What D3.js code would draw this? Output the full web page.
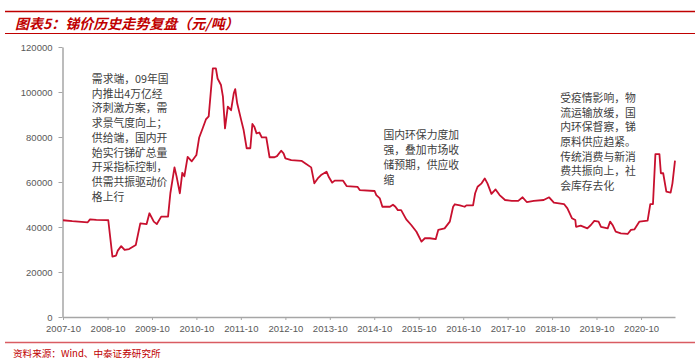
<!DOCTYPE html>
<html><head><meta charset="utf-8">
<script src="https://cdn.jsdelivr.net/npm/d3@7/dist/d3.min.js"></script>
<style>
body{margin:0;background:#fff;}
svg{display:block;}
</style></head>
<body><svg id="c" width="700" height="360"></svg>
<script>
const titleText = "图表5：锑价历史走势复盘（元/吨）";
const sourceText = "资料来源：Wind、中泰证券研究所";
const yTicks = [0, 20000, 40000, 60000, 80000, 100000, 120000];
const xTickLabels = ["2007-10","2008-10","2009-10","2010-10","2011-10","2012-10","2013-10","2014-10","2015-10","2016-10","2017-10","2018-10","2019-10","2020-10"];
const dates = ["2007-10-01","2007-12-16","2008-04-21","2008-05-10","2008-07-01","2008-09-18","2008-10-07","2008-11-10","2008-12-10","2008-12-24",
"2009-01-21","2009-02-18","2009-03-27","2009-05-21","2009-06-27","2009-08-18","2009-09-10","2009-10-16","2009-11-10","2009-12-16",
"2010-02-10","2010-03-01","2010-04-04","2010-04-21","2010-05-18","2010-06-07","2010-06-24","2010-07-21","2010-08-24","2010-10-01",
"2010-10-24","2010-11-21","2010-12-18","2011-01-10","2011-02-13","2011-03-10","2011-03-24","2011-04-21","2011-05-07","2011-05-24",
"2011-06-16","2011-07-13","2011-08-04","2011-08-16","2011-09-01","2011-10-04","2011-10-24","2011-11-18","2011-12-18","2012-01-04",
"2012-01-21","2012-02-07","2012-03-01","2012-03-21","2012-04-27","2012-05-24","2012-07-04","2012-07-24","2012-08-27","2012-09-16",
"2012-10-01","2012-11-18","2013-02-10","2013-03-21","2013-05-01","2013-05-27","2013-06-24","2013-07-21","2013-09-04","2013-09-24",
"2013-10-21","2013-11-10","2014-01-18","2014-02-16","2014-05-18","2014-06-04","2014-10-04","2014-10-18","2014-11-16","2014-12-07",
"2015-02-07","2015-03-04","2015-03-24","2015-04-13","2015-05-10","2015-06-21","2015-08-01","2015-09-13","2015-10-24","2015-11-21",
"2016-01-01","2016-02-18","2016-03-10","2016-05-01","2016-06-13","2016-07-10","2016-07-24","2016-09-04","2016-10-13","2016-10-27",
"2016-12-21","2017-01-07","2017-01-27","2017-03-01","2017-03-27","2017-04-18","2017-05-21","2017-06-24","2017-07-27","2017-09-10",
"2017-11-04","2017-12-27","2018-02-01","2018-03-07","2018-05-04","2018-07-24","2018-09-07","2018-10-16","2019-01-07","2019-02-04",
"2019-03-13","2019-04-10","2019-04-16","2019-05-24","2019-07-18","2019-08-16","2019-09-13","2019-10-18","2019-11-07","2020-01-01",
"2020-01-21","2020-02-10","2020-03-07","2020-04-18","2020-06-13","2020-07-10","2020-08-07","2020-09-18","2020-11-24","2020-12-16",
"2021-01-07","2021-01-27","2021-03-01","2021-03-13","2021-04-01","2021-04-27","2021-06-01","2021-06-16","2021-07-07"];
const prices = [43000,42600,42100,43400,43200,43100,43000,26800,27300,29500,
31500,29800,30200,32000,41600,41300,46100,42400,41300,44600,
44600,55000,66500,62500,55000,64100,62500,71200,69200,72000,
79800,83800,87800,89200,110500,110500,106000,103100,97900,83800,
93500,91900,99400,101300,95000,87500,83100,75000,75000,85800,
84400,81600,82000,79800,79800,71000,71000,71500,73900,72700,
70500,69700,69400,68000,66500,59400,61600,63100,64600,62100,
59700,60600,60600,58200,57800,56400,56000,54200,52700,49000,
49000,49900,49000,47500,47500,43400,40900,37900,33500,35000,
35000,34600,38700,39400,42400,49000,50100,49600,49000,49600,
49600,55000,57900,59400,61600,59400,54700,56700,54200,52000,
51600,51600,53200,51100,51600,52000,53200,50800,50200,48300,
43900,43100,40100,40600,39400,40900,42700,42400,40100,39400,
42400,40900,37900,37200,36900,38700,38900,42400,42800,50200,
50200,72400,72400,63900,63900,55700,55300,59400,69500];
const notes = [
  {x:"2008-05-25", y:104000, lines:["需求端，09年国","内推出4万亿经","济刺激方案，需","求景气度向上；","供给端，国内开","始实行锑矿总量","开采指标控制，","供需共振驱动价","格上行"]},
  {x:"2014-12-16", y:78900, lines:["国内环保力度加","强，叠加市场收","储预期，供应收","缩"]},
  {x:"2018-12-07", y:95600, lines:["受疫情影响，物","流运输放缓，国","内环保督察，锑","原料供应趋紧。","传统消费与新消","费共振向上，社","会库存去化"]}
];

const parse = d3.timeParse("%Y-%m-%d");
const parseM = d3.timeParse("%Y-%m");
const data = dates.map((d,i)=>({date:parse(d), v:prices[i]}));
const svg = d3.select("#c");
const red = "#c8102e";

// title
svg.append("line").attr("x1",5).attr("x2",695).attr("y1",11.5).attr("y2",11.5).attr("stroke","#c00000").attr("stroke-width",1.5);
svg.append("line").attr("x1",5).attr("x2",695).attr("y1",33.5).attr("y2",33.5).attr("stroke","#c00000").attr("stroke-width",1);
svg.append("text").attr("x",15).attr("y",29).text(titleText)
  .attr("fill","#c00000").attr("font-family","'Noto Sans CJK SC'").attr("font-size",14)
  .attr("font-weight","bold").attr("font-style","italic");

const x = d3.scaleTime().domain([parse(dates[0]), parse(dates[dates.length-1])]).range([63, 675]);
const y = d3.scaleLinear().domain([0,120000]).range([317,47]);

const gx = svg.append("g").attr("transform","translate(0,317)")
  .call(d3.axisBottom(x).tickValues(xTickLabels.map(parseM)).tickFormat(d3.timeFormat("%Y-%m")).tickSize(3).tickSizeOuter(0));
const gy = svg.append("g").attr("transform","translate(62.5,0)")
  .call(d3.axisLeft(y).tickValues(yTicks).tickFormat(d3.format("d")).tickSize(4).tickSizeOuter(0).tickPadding(6));
[gx,gy].forEach(g=>{
  g.select(".domain").attr("stroke","#a6a6a6").attr("stroke-width",1.5);
  g.selectAll(".tick line").attr("stroke","#a6a6a6").attr("stroke-width",1);
  g.selectAll("text").attr("fill","#595959").attr("font-family","'Liberation Sans', Arial").attr("font-size",9.5);
});
gx.selectAll("text").attr("dy","0.71em").attr("y",8);

svg.append("path").datum(data)
  .attr("d", d3.line().x(d=>x(d.date)).y(d=>y(d.v)))
  .attr("fill","none").attr("stroke",red).attr("stroke-width",1.8).attr("stroke-linejoin","round");

notes.forEach(n=>{
  const t = svg.append("text").attr("x",x(parse(n.x))).attr("y",y(n.y))
    .attr("fill","#404040").attr("font-family","'Noto Sans CJK SC'").attr("font-size",10.8);
  n.lines.forEach((l,i)=>t.append("tspan").attr("x",x(parse(n.x))).attr("dy", i===0?0:14.7).text(l));
});

svg.append("line").attr("x1",5).attr("x2",695).attr("y1",342.5).attr("y2",342.5).attr("stroke","#d95c62").attr("stroke-width",1.5);
svg.append("text").attr("x",13).attr("y",357).text(sourceText)
  .attr("fill","#c00000").attr("font-family","'Noto Sans CJK SC'").attr("font-size",9.6);
</script></body></html>
